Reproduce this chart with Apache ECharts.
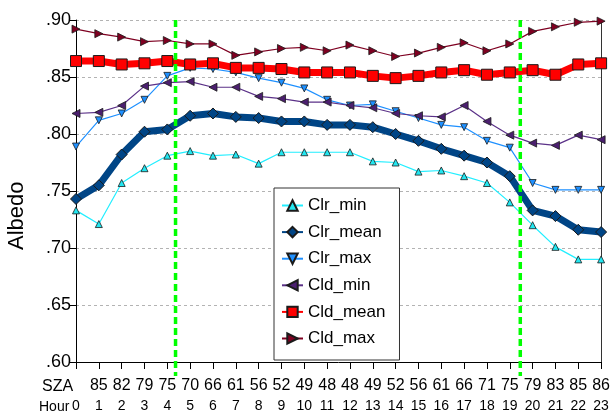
<!DOCTYPE html>
<html>
<head>
<meta charset="utf-8">
<script src="https://cdn.jsdelivr.net/npm/echarts@6/dist/echarts.min.js"></script>
<style>
  html, body { margin: 0; padding: 0; background: #fff; }
  #chart { width: 613px; height: 420px; }
</style>
</head>
<body>
<div id="chart"></div>
<script>
// hour of day and solar zenith angle labels
const hours = [0, 1, 2, 3, 4, 5, 6, 7, 8, 9, 10, 11, 12, 13, 14, 15, 16, 17, 18, 19, 20, 21, 22, 23];
const szaLabels = ["", "85", "82", "79", "75", "70", "66", "61", "56", "52", "49", "48", "48", "49", "52", "56", "61", "66", "71", "75", "79", "83", "85", "86"];
const yTicks = [0.60, 0.65, 0.70, 0.75, 0.80, 0.85, 0.90];
// sunrise / sunset (in hours)
const dayBounds = [4.36, 19.46];

const clrMin = [0.733, 0.721, 0.757, 0.770, 0.781, 0.785, 0.781, 0.782, 0.774, 0.784, 0.784, 0.784, 0.784, 0.776, 0.775, 0.767, 0.768, 0.763, 0.757, 0.740, 0.720, 0.701, 0.690, 0.690];
const clrMean = [0.743, 0.755, 0.782, 0.802, 0.804, 0.816, 0.818, 0.815, 0.814, 0.811, 0.811, 0.808, 0.808, 0.806, 0.800, 0.794, 0.787, 0.781, 0.775, 0.763, 0.733, 0.728, 0.716, 0.714];
const clrMax = [0.789, 0.812, 0.818, 0.830, 0.851, 0.858, 0.857, 0.854, 0.849, 0.845, 0.840, 0.830, 0.825, 0.826, 0.820, 0.814, 0.808, 0.806, 0.794, 0.788, 0.757, 0.751, 0.751, 0.751];
const cldMin = [0.818, 0.819, 0.825, 0.842, 0.845, 0.846, 0.841, 0.841, 0.833, 0.831, 0.828, 0.828, 0.825, 0.823, 0.818, 0.816, 0.815, 0.825, 0.811, 0.799, 0.792, 0.790, 0.799, 0.795];
const cldMean = [0.864, 0.864, 0.861, 0.862, 0.864, 0.861, 0.862, 0.858, 0.858, 0.857, 0.854, 0.854, 0.854, 0.851, 0.849, 0.851, 0.854, 0.856, 0.852, 0.854, 0.856, 0.852, 0.861, 0.862];
const cldMax = [0.892, 0.888, 0.885, 0.881, 0.882, 0.879, 0.879, 0.869, 0.872, 0.875, 0.876, 0.873, 0.878, 0.873, 0.868, 0.871, 0.876, 0.880, 0.873, 0.879, 0.890, 0.894, 0.898, 0.899];

const pairs = (vals) => vals.map((v, i) => [hours[i], v]);

const thin = (name, data, color, fill, symbol, rotate, size) => ({
  name: name,
  type: "line",
  data: pairs(data),
  symbol: symbol,
  symbolRotate: rotate,
  symbolSize: size,
  lineStyle: { color: color, width: 1.2 },
  itemStyle: { color: fill, borderColor: "#1a1a1a", borderWidth: 0.8 },
  z: 3,
});

const thick = (name, data, color, symbol, size) => ({
  name: name,
  type: "line",
  data: pairs(data),
  symbol: symbol,
  symbolSize: size,
  lineStyle: { color: color, width: 7 },
  itemStyle: { color: color, borderColor: "#1a1a1a", borderWidth: 1 },
  z: 4,
});

const series = [
  thin("Clr_min", clrMin, "#22eeff", "#22e6f0", "triangle", 0, 7),
  thick("Clr_mean", clrMean, "#004586", "diamond", 11),
  thin("Clr_max", clrMax, "#1e90ff", "#1e90ff", "triangle", 180, 7),
  thin("Cld_min", cldMin, "#5b3188", "#4b1f6f", "triangle", 90, 8),
  thick("Cld_mean", cldMean, "#ff0000", "rect", 11),
  thin("Cld_max", cldMax, "#7e0021", "#7e0021", "triangle", -90, 8),
];

const chart = echarts.init(document.getElementById("chart"));
chart.setOption({
  animation: false,
  backgroundColor: "#fff",
  textStyle: { fontFamily: "Liberation Sans" },
  grid: { left: 76, top: 20, right: 11, bottom: 58 },
  legend: {
    orient: "vertical",
    left: 274,
    top: 188,
    padding: [9, 14, 13, 7],
    itemGap: 9.6,
    itemWidth: 21,
    itemHeight: 13,
    backgroundColor: "#fff",
    borderColor: "#333",
    borderWidth: 1,
    borderRadius: 0,
    textStyle: { fontSize: 17, color: "#000", fontFamily: "Liberation Sans" },
    data: series.map((s) => s.name),
  },
  xAxis: {
    type: "value",
    min: 0,
    max: 23,
    interval: 1,
    splitLine: { show: false },
    axisLine: { lineStyle: { color: "#000", width: 1 } },
    axisTick: { length: 7, lineStyle: { color: "#000" } },
    axisLabel: {
      margin: 14,
      formatter: (v) => "{s|" + (szaLabels[v] || " ") + "}\n{h|" + v + "}",
      rich: {
        s: { fontSize: 16, lineHeight: 20, color: "#000", fontFamily: "Liberation Sans" },
        h: { fontSize: 14, lineHeight: 20, color: "#000", fontFamily: "Liberation Sans" },
      },
    },
  },
  yAxis: [
    {
      type: "value",
      min: 0.6,
      max: 0.9,
      interval: 0.05,
      axisLine: { show: true, lineStyle: { color: "#000" } },
      axisTick: { show: true, length: 6, lineStyle: { color: "#000" } },
      axisLabel: {
        fontSize: 18,
        color: "#000",
        margin: 5,
        formatter: (v) => v.toFixed(2).replace(/^0/, ""),
      },
      splitLine: { lineStyle: { color: "#b3b3b3", type: [3, 3], width: 1 } },
    },
    {
      type: "value",
      position: "right",
      min: 0.6,
      max: 0.9,
      interval: 0.05,
      axisLine: { show: true, lineStyle: { color: "#333" } },
      axisTick: { show: false },
      axisLabel: { show: false },
      splitLine: { show: false },
    },
  ],
  series: series,
});

// sunrise / sunset dashed markers, placed through the chart's own scales
const bottomExtra = 14;
const markers = dayBounds.map((h) => {
  const top = chart.convertToPixel({ gridIndex: 0 }, [h, 0.9]);
  const bot = chart.convertToPixel({ gridIndex: 0 }, [h, 0.6]);
  return {
    type: "line",
    silent: true,
    z: 10,
    shape: { x1: top[0], y1: top[1], x2: bot[0], y2: bot[1] + bottomExtra },
    style: { stroke: "#00ff00", lineWidth: 3.5, lineDash: [7, 4] },
  };
});

chart.setOption({
  graphic: [
    { type: "text", rotation: Math.PI / 2, x: 6, y: 250, style: { text: "Albedo", fontSize: 22, fill: "#000", fontFamily: "Liberation Sans" }, silent: true },
    { type: "text", x: 42, y: 379, style: { text: "SZA", fontSize: 16, fill: "#000", fontFamily: "Liberation Sans" } },
    { type: "text", x: 39, y: 400, style: { text: "Hour", fontSize: 14, fill: "#000", fontFamily: "Liberation Sans" } },
  ].concat(markers),
});
</script>
</body>
</html>
